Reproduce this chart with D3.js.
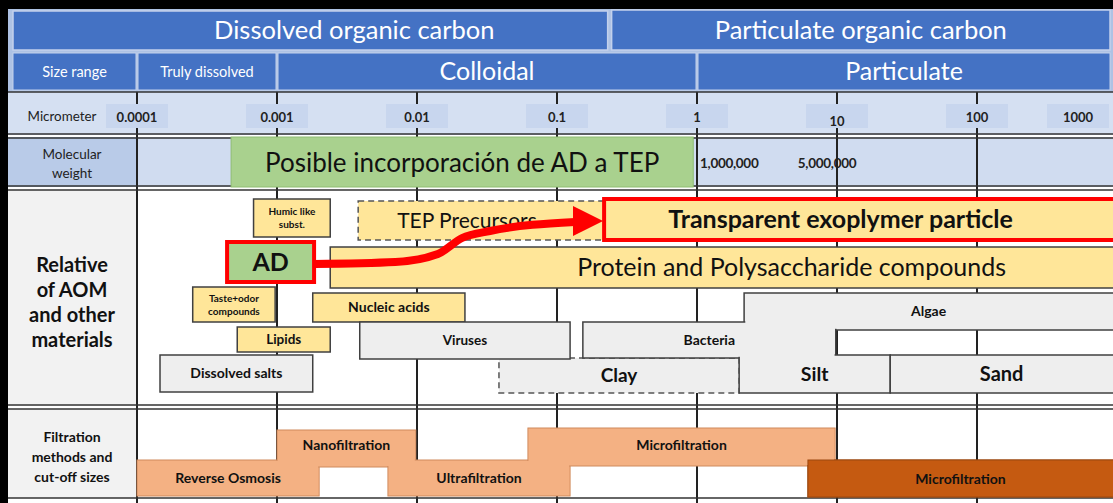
<!DOCTYPE html>
<html><head><meta charset="utf-8">
<script src="https://cdn.jsdelivr.net/npm/d3@7"></script>
<style>body{margin:0;background:#fff;} svg{display:block;font-family:Lato,"Open Sans",sans-serif;}</style>
</head><body><svg id="c" width="1113" height="503"></svg>
<script>
// ---------------- DATA ----------------
const tickValues = [0.0001, 0.001, 0.01, 0.1, 1, 10, 100, 1000];
const tickLabels = ["0.0001", "0.001", "0.01", "0.1", "1", "10", "100", "1000"];
const carbonLabels = ["Dissolved organic carbon", "Particulate organic carbon"];
const carbonBoundary = 0.23;
const sizeLabels = ["Truly dissolved", "Colloidal", "Particulate"];
const sizeEdges = [0.0001, 0.001, 1, 1000];
const mwLabels = ["1,000,000", "5,000,000"];
const mwAt = [1, 5];
const adNote = "Posible incorporación de AD a TEP";
const adNoteRange = [0.00047, 0.94];
const materialNames = ["Humic like|subst.", "TEP Precursors", "Transparent exoplymer particle",
  "Protein and Polysaccharide compounds", "Taste+odor|compounds", "Nucleic acids", "Lipids",
  "Dissolved salts", "Clay", "Viruses", "Algae", "Bacteria", "Silt", "Sand", "AD"];
const materialFrom = [0.00068, 0.0038, 0.217, 0.0024, 0.00025, 0.0018, 0.00052, 0.000146, 0.0385, 0.0039, 2.17, 0.153, 2, 24, 0.00044];
const materialTo   = [0.0024, 0.26, 1000, 1000, 0.00097, 0.022, 0.0024, 0.0018, 2, 0.124, 1000, 9.8, 24, 1000, 0.00184];
const materialType = ["organic", "precursor", "tep", "organic", "organic", "organic", "organic",
  "mineral", "clay", "mineral", "mineral", "mineral", "mineral", "mineral", "ad"];
const filterNames = ["Reverse Osmosis", "Nanofiltration", "Ultrafiltration", "Microfiltration", "Microfiltration"];
const filterFrom = [0.0001, 0.001, 0.0062, 0.062, 6.2];
const filterTo   = [0.002, 0.0098, 0.124, 9.7, 1000];
const arrowUm = [0.00184, 0.007, 0.0141, 0.021, 0.0332, 0.1345, 0.217];

// ---------------- LAYOUT / STYLE ----------------
const W = 1113, H = 503;
const x = d3.scaleLog().domain([0.0001, 1000]).range([137, 1117]);
const R = {hdr1: [11, 50], hdr2: [53, 90], um: [92, 135], mw: [137, 187], aom: [190, 406], filt: [409, 498]};
const materialY = [[199,237],[201,240],[199,240],[247,288],[287,322],[293,322],[327,352],[355,392],[358,393],[322,359],[293,330],[322,358],[355,393],[355,393],[242,282]];
const materialFont = [10, 21, 25, 25, 10, 14, 13.5, 14, 19, 13.5, 14, 14, 19.5, 20, 25];
const materialWeight = [700, 400, 700, 400, 700, 700, 700, 700, 700, 700, 700, 700, 700, 700, 700];
const materialDx = [0, 0, -18, 70, 0, 0, 0, 0, 0, 0, 0, 0, 0, 0, 0];
const filterY = [[460,496],[430,467],[460,496],[428,466],[460,497]];
const arrowY = [264, 262, 254, 238, 231, 222, 221];
const typeFill = {organic: "#ffe699", precursor: "#ffe699", tep: "#ffe699", mineral: "#eeeeee", clay: "#eeeeee", ad: "#a9d18e"};
const typeStroke = {organic: "#404040", precursor: "#555", tep: "#ff0000", mineral: "#404040", clay: "#555", ad: "#ff0000"};
const typeWidth = {organic: 1.5, precursor: 1.5, tep: 4, mineral: 1.5, clay: 1.5, ad: 4};

const svg = d3.select("#c");
svg.append("rect").attr("width", W).attr("height", H).attr("fill", "#fff");

// header background
svg.append("rect").attr("x", 8).attr("y", 8).attr("width", W - 8).attr("height", 85).attr("fill", "#aec2e4");

// header row 1
const cx = x(carbonBoundary);
const hdr1 = [[13, cx], [cx + 4, W - 3]];
const hdrDx = [44, 0];
const h1 = svg.append("g");
carbonLabels.forEach((t, i) => {
  const [a, b] = hdr1[i];
  const y0 = i === 0 ? R.hdr1[0] : R.hdr1[0] - 1;
  h1.append("rect").attr("x", a).attr("y", y0).attr("width", b - a).attr("height", R.hdr1[1] - y0)
    .attr("fill", "#4472c4").attr("stroke", "#c3d1ec").attr("stroke-width", 1.5);
  h1.append("text").attr("x", (a + b) / 2 + hdrDx[i]).attr("y", (y0 + R.hdr1[1]) / 2 + 8.5).attr("text-anchor", "middle")
    .attr("fill", "#fff").attr("font-size", 25.5).text(t);
});

// header row 2
const h2 = svg.append("g");
const cells = [{t: "Size range", a: 13, b: x(sizeEdges[0]) - 1, fs: 14.5}];
sizeLabels.forEach((t, i) => cells.push({t, a: x(sizeEdges[i]) + 1, b: Math.min(x(sizeEdges[i + 1]) - 1, W - 3), fs: i === 0 ? 14.5 : 25}));
cells.forEach(c => {
  h2.append("rect").attr("x", c.a).attr("y", R.hdr2[0]).attr("width", c.b - c.a).attr("height", R.hdr2[1] - R.hdr2[0])
    .attr("fill", "#4472c4").attr("stroke", "#c3d1ec").attr("stroke-width", 1);
  h2.append("text").attr("x", (c.a + c.b) / 2).attr("y", (R.hdr2[0] + R.hdr2[1]) / 2 + (c.fs > 16 ? 8.5 : 5))
    .attr("text-anchor", "middle").attr("fill", "#fff").attr("font-size", c.fs).text(c.t);
});

// micrometer row & mw row backgrounds
svg.append("rect").attr("x", 8).attr("y", R.um[0]).attr("width", W - 8).attr("height", R.um[1] - R.um[0]).attr("fill", "#d5e0f2");
svg.append("rect").attr("x", 8).attr("y", R.mw[0]).attr("width", W - 8).attr("height", R.mw[1] - R.mw[0]).attr("fill", "#d0dcf0");
svg.append("rect").attr("x", 8).attr("y", R.mw[0]).attr("width", 129).attr("height", R.mw[1] - R.mw[0]).attr("fill", "#b9cbe8");
svg.append("rect").attr("x", 8).attr("y", R.aom[0]).attr("width", 129).attr("height", R.aom[1] - R.aom[0]).attr("fill", "#f2f2f2");
svg.append("rect").attr("x", 8).attr("y", R.filt[0]).attr("width", 129).attr("height", R.filt[1] - R.filt[0]).attr("fill", "#f2f2f2");

// vertical grid lines
svg.append("g").selectAll("line").data(tickValues).join("line")
  .attr("x1", d => x(d)).attr("x2", d => x(d)).attr("y1", R.um[0]).attr("y2", H)
  .attr("stroke", "#222").attr("stroke-width", 2);

// horizontal rules
[R.um[0], R.um[1] - 1, R.mw[0] + 1, R.mw[1] - 1, R.aom[0], R.aom[1] - 1, R.filt[0], R.filt[1]].forEach(y => {
  svg.append("line").attr("x1", 8).attr("x2", W).attr("y1", y).attr("y2", y).attr("stroke", "#333").attr("stroke-width", 1.5);
});

// micrometer labels
svg.append("text").attr("x", 62).attr("y", 121).attr("text-anchor", "middle").attr("font-size", 13.4).attr("fill", "#222").text("Micrometer");
const lx = d => Math.min(x(d), W - 35);
const tg = svg.append("g");
tg.selectAll("rect").data(tickValues).join("rect")
  .attr("x", d => lx(d) - 31).attr("y", 104).attr("width", 62).attr("height", 24).attr("fill", "#c8d6ee");
tg.selectAll("text").data(tickValues).join("text")
  .attr("x", d => lx(d)).attr("y", (d, i) => i === 5 ? 126 : 122).attr("text-anchor", "middle")
  .attr("font-size", 13).attr("font-weight", 700).attr("fill", "#222").text((d, i) => tickLabels[i]);

// molecular weight
svg.append("text").attr("x", 72).attr("y", 159).attr("text-anchor", "middle").attr("font-size", 13.5).attr("fill", "#222").text("Molecular");
svg.append("text").attr("x", 72).attr("y", 178).attr("text-anchor", "middle").attr("font-size", 13.5).attr("fill", "#222").text("weight");
svg.append("g").selectAll("text").data(mwAt).join("text")
  .attr("x", d => x(d) + 3).attr("y", 168).attr("font-size", 13.5).attr("font-weight", 700).attr("fill", "#222")
  .attr("letter-spacing", -0.3).text((d, i) => mwLabels[i]);
svg.append("rect").attr("x", x(adNoteRange[0])).attr("y", R.mw[0]).attr("width", x(adNoteRange[1]) - x(adNoteRange[0]))
  .attr("height", R.mw[1] - R.mw[0]).attr("fill", "#a9d18e").attr("stroke", "#8fbc72").attr("stroke-width", 1);
svg.append("text").attr("x", (x(adNoteRange[0]) + x(adNoteRange[1])) / 2).attr("y", 172).attr("text-anchor", "middle")
  .attr("font-size", 26).attr("fill", "#111").text(adNote);

// left labels
const leftText = (lines, y0, dy, fs) => lines.forEach((t, i) =>
  svg.append("text").attr("x", 72).attr("y", y0 + i * dy).attr("text-anchor", "middle").attr("font-size", fs)
    .attr("font-weight", 700).attr("fill", "#111").text(t));
leftText(["Relative", "of AOM", "and other", "materials"], 272, 25, 20);
leftText(["Filtration", "methods and", "cut-off sizes"], 442, 20, 14);

// materials
const mg = svg.append("g");
materialNames.forEach((name, i) => {
  const t = materialType[i];
  const a = x(materialFrom[i]), b = Math.min(x(materialTo[i]), W + 5);
  const [y0, y1] = materialY[i];
  mg.append("rect").attr("x", a).attr("y", y0).attr("width", b - a).attr("height", y1 - y0)
    .attr("fill", typeFill[t]).attr("stroke", typeStroke[t]).attr("stroke-width", typeWidth[t])
    .attr("stroke-dasharray", (t === "precursor" || t === "clay") ? "6,4" : null);
});
// merge algae + bacteria outline
["Algae", "Bacteria"].forEach(n => {
  const i = materialNames.indexOf(n);
  const a = x(materialFrom[i]), b = Math.min(x(materialTo[i]), W + 5);
  const [y0, y1] = materialY[i];
  mg.append("rect").attr("x", a + 1.2).attr("y", y0 + 1.2).attr("width", b - a - 2.4).attr("height", y1 - y0 - 2.4).attr("fill", "#eeeeee");
});
materialNames.forEach((name, i) => {
  const a = x(materialFrom[i]), b = Math.min(x(materialTo[i]), W);
  const [y0, y1] = materialY[i];
  const lines = name.split("|");
  const fs = materialFont[i];
  const precursor = materialType[i] === "precursor";
  const tx = precursor ? a + 39 : (a + b) / 2 + materialDx[i];
  const lh = fs * 1.3;
  const ym = (y0 + y1) / 2 - (lines.length - 1) * lh / 2 + fs * 0.35;
  lines.forEach((l, k) => mg.append("text").attr("x", tx).attr("y", ym + k * lh)
    .attr("text-anchor", precursor ? "start" : "middle").attr("font-size", fs)
    .attr("font-weight", materialWeight[i]).attr("fill", "#111").text(l));
});

// arrow
const pts = arrowUm.map((u, i) => [x(u), arrowY[i]]);
const head = pts.pop();
svg.append("path").attr("d", d3.line().curve(d3.curveMonotoneX)(pts))
  .attr("fill", "none").attr("stroke", "#ff0000").attr("stroke-width", 8);
const base = pts[pts.length - 1];
svg.append("path").attr("d", `M${base[0] - 2},${head[1] - 15}L${head[0] - 1},${head[1]}L${base[0] - 2},${head[1] + 15}Z`).attr("fill", "#ff0000");

// filtration
const fg = svg.append("g");
filterNames.forEach((n, i) => {
  const a = x(filterFrom[i]), b = Math.min(x(filterTo[i]), W + 5);
  const [y0, y1] = filterY[i];
  const dark = i === 4;
  fg.append("rect").attr("x", a).attr("y", y0).attr("width", b - a).attr("height", y1 - y0)
    .attr("fill", dark ? "#c55a11" : "#f4b183").attr("stroke", dark ? "#9c4810" : "#cf8a5c").attr("stroke-width", 1);
});
filterNames.forEach((n, i) => {
  if (i === 4) return;
  const a = x(filterFrom[i]), b = x(filterTo[i]);
  const [y0, y1] = filterY[i];
  fg.append("rect").attr("x", a + 1).attr("y", y0 + 1).attr("width", b - a - 2).attr("height", y1 - y0 - 2).attr("fill", "#f4b183");
});
{
  const i = 4, a = x(filterFrom[i]), b = W + 5, [y0, y1] = filterY[i];
  fg.append("rect").attr("x", a).attr("y", y0).attr("width", b - a).attr("height", y1 - y0)
    .attr("fill", "#c55a11").attr("stroke", "#9c4810").attr("stroke-width", 1);
}
const textX = filterNames.map((n, i) => (x(filterFrom[i]) + Math.min(x(filterTo[i]), W)) / 2);
const textDy = [0, -4, 0, -2, 0];
filterNames.forEach((n, i) => fg.append("text").attr("x", textX[i]).attr("y", (filterY[i][0] + filterY[i][1]) / 2 + 5 + textDy[i])
  .attr("text-anchor", "middle").attr("font-size", 14).attr("font-weight", 700).attr("fill", "#111").text(n));

// black frame
svg.append("rect").attr("x", 0).attr("y", 0).attr("width", W).attr("height", 9).attr("fill", "#000");
svg.append("rect").attr("x", 0).attr("y", 0).attr("width", 8).attr("height", H).attr("fill", "#000");
</script></body></html>
